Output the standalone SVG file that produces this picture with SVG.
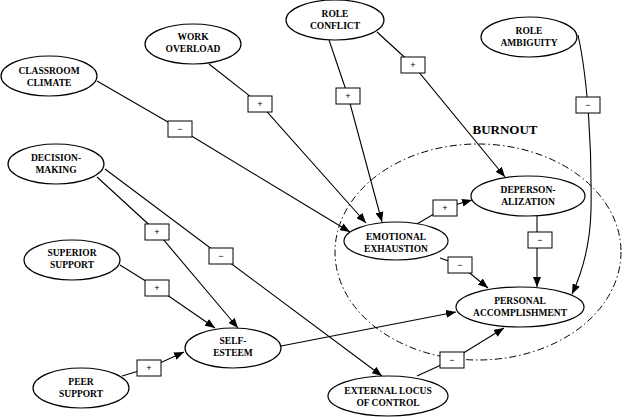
<svg xmlns="http://www.w3.org/2000/svg" width="625" height="417" viewBox="0 0 625 417">
<defs>
<marker id="arr" viewBox="0 0 10 8" refX="10" refY="4" markerWidth="10" markerHeight="8" markerUnits="userSpaceOnUse" orient="auto">
<path d="M0,0 L10,4 L0,8 z" fill="#000"/>
</marker>
</defs>
<style>
.n ellipse{fill:#fff;stroke:#000;stroke-width:1.2}
.n text{font-family:"Liberation Serif","Times New Roman",serif;font-weight:bold;font-size:9.5px;text-anchor:middle;fill:#000}
.e{fill:none;stroke:#000;stroke-width:1.1;marker-end:url(#arr)}
.l rect{fill:#fff;stroke:#000;stroke-width:1}
.l text{font-family:"Liberation Sans",Arial,sans-serif;font-size:9px;text-anchor:middle;fill:#000}
.t{font-family:"Liberation Serif","Times New Roman",serif;font-weight:bold;font-size:13px;text-anchor:middle}
</style>
<rect width="625" height="417" fill="#fff"/>
<ellipse cx="478" cy="252" rx="143" ry="108" fill="none" stroke="#000" stroke-width="1" stroke-dasharray="7,3,1.5,3"/>
<text class="t" x="505" y="134">BURNOUT</text>
<g id="connectors">
<path class="e" d="M97,81 L180,129 L350,232"/>
<path class="e" d="M209,64 L260,104 L366,223"/>
<path class="e" d="M329,40 L348,96 L382,222"/>
<path class="e" d="M377,32 L413,65 L505,177"/>
<path class="e" d="M578,35 C588,80 592,150 591,210 C590,250 581,275 572,294"/>
<path class="e" d="M97,177 L157,232 L238,328"/>
<path class="e" d="M105,169 L221,256 L382,376"/>
<path class="e" d="M120,265 L157,288 L215,328"/>
<path class="e" d="M122,376 L149,368 L184,352"/>
<path class="e" d="M281,346 L456,312"/>
<path class="e" d="M417,224 L444,208 L472,200"/>
<path class="e" d="M440,258 L460,265 L488,288"/>
<path class="e" d="M537,216 L537,287"/>
<path class="e" d="M417,376 L452,360 L504,328"/>
<g class="l">
<rect x="168" y="121" width="24" height="16"/><text x="180" y="132">−</text>
<rect x="248" y="96" width="24" height="16"/><text x="260" y="107">+</text>
<rect x="336" y="88" width="24" height="16"/><text x="348" y="99">+</text>
<rect x="401" y="57" width="24" height="16"/><text x="413" y="68">+</text>
<rect x="576" y="97" width="24" height="16"/><text x="588" y="108">−</text>
<rect x="145" y="224" width="24" height="16"/><text x="157" y="235">+</text>
<rect x="209" y="248" width="24" height="16"/><text x="221" y="259">−</text>
<rect x="145" y="280" width="24" height="16"/><text x="157" y="291">+</text>
<rect x="137" y="360" width="24" height="16"/><text x="149" y="371">+</text>
<rect x="433" y="200" width="24" height="16"/><text x="445" y="211">+</text>
<rect x="448" y="257" width="24" height="16"/><text x="460" y="268">−</text>
<rect x="528" y="232" width="24" height="16"/><text x="540" y="243">−</text>
<rect x="440" y="352" width="24" height="16"/><text x="452" y="363">−</text>
</g>
</g>
<g id="work-overload" class="n"><ellipse cx="193" cy="44" rx="48" ry="20"/><text x="193" y="40">WORK</text><text x="193" y="52">OVERLOAD</text></g>
<g id="classroom-climate" class="n"><ellipse cx="49" cy="76" rx="48" ry="20"/><text x="49" y="74">CLASSROOM</text><text x="49" y="86">CLIMATE</text></g>
<g id="decision-making" class="n"><ellipse cx="56" cy="164" rx="48" ry="20"/><text x="56" y="161">DECISION-</text><text x="56" y="173">MAKING</text></g>
<g id="role-conflict" class="n"><ellipse cx="335" cy="20" rx="49" ry="20"/><text x="335" y="17">ROLE</text><text x="335" y="29">CONFLICT</text></g>
<g id="role-ambiguity" class="n"><ellipse cx="529" cy="37" rx="48" ry="20"/><text x="529" y="34">ROLE</text><text x="529" y="46">AMBIGUITY</text></g>
<g id="depersonalization" class="n"><ellipse cx="528" cy="196" rx="57" ry="20"/><text x="528" y="193">DEPERSON-</text><text x="528" y="205">ALIZATION</text></g>
<g id="emotional-exhaustion" class="n"><ellipse cx="396" cy="241" rx="52" ry="19"/><text x="396" y="240">EMOTIONAL</text><text x="396" y="252">EXHAUSTION</text></g>
<g id="personal-accomplishment" class="n"><ellipse cx="520" cy="307" rx="64" ry="20"/><text x="520" y="304">PERSONAL</text><text x="520" y="316">ACCOMPLISHMENT</text></g>
<g id="external-locus" class="n"><ellipse cx="388" cy="396" rx="60" ry="20"/><text x="388" y="394">EXTERNAL LOCUS</text><text x="388" y="406">OF CONTROL</text></g>
<g id="self-esteem" class="n"><ellipse cx="233" cy="348" rx="48" ry="20"/><text x="233" y="344">SELF-</text><text x="233" y="356">ESTEEM</text></g>
<g id="superior-support" class="n"><ellipse cx="72" cy="260" rx="48" ry="20"/><text x="72" y="256">SUPERIOR</text><text x="72" y="268">SUPPORT</text></g>
<g id="peer-support" class="n"><ellipse cx="81" cy="388" rx="48" ry="20"/><text x="81" y="385">PEER</text><text x="81" y="397">SUPPORT</text></g>
</svg>
